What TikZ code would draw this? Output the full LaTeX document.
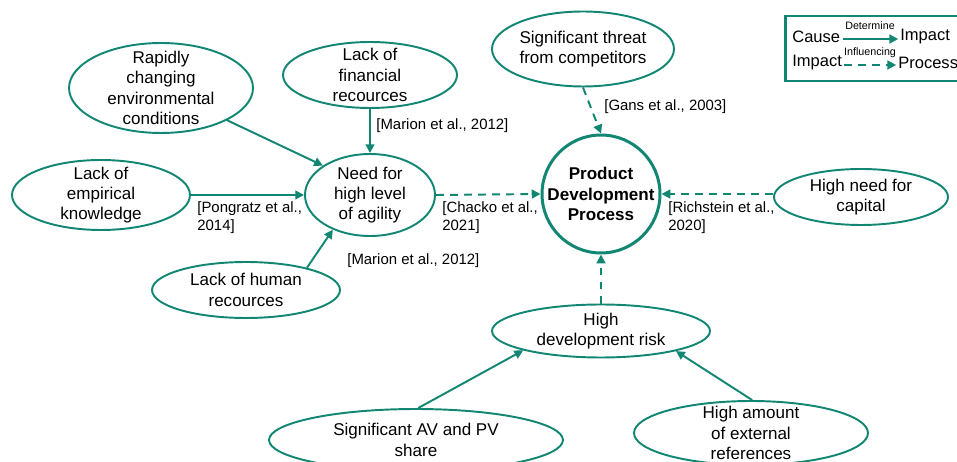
\documentclass[tikz,border=0pt]{standalone}
\usepackage{fontspec}
\setmainfont{Liberation Sans}
\usepackage{tikz}
\usetikzlibrary{positioning}
\usetikzlibrary{shapes.geometric}
\usetikzlibrary{arrows.meta}
\definecolor{teal1}{RGB}{17,135,115}
\tikzset{
  factor/.style={ellipse, draw=teal1, line width=1.1pt, inner sep=0pt},
  txt/.style={label={[align=center, inner sep=0pt]center:#1}},
  cite/.style={anchor=west, align=left, inner sep=0pt, font=\fontsize{8.5}{10.2}\selectfont},
  determ/.style={-{Triangle[length=5pt,width=5pt]}, draw=teal1, line width=1.1pt},
  influ/.style={determ, dash pattern=on 4.5pt off 3.5pt},
}
\begin{document}
\begin{tikzpicture}[x=0.02cm,y=-0.02cm,font=\fontsize{9.7}{11.6}\selectfont]
\clip (0,0) rectangle (957,462);
\fill[white] (0,0) rectangle (957,462);
% causes
\node[factor, minimum width=3.68cm, minimum height=1.8cm, txt={Rapidly\\changing\\environmental\\conditions}] (rapid) at (161,88) {};
\node[factor, minimum width=3.48cm, minimum height=1.32cm, txt={Lack of\\financial\\recources}] (finance) at (370,75) {};
\node[factor, minimum width=3.64cm, minimum height=1.5cm, txt={Significant threat\\from competitors}] (threat) at (583,49) {};
\node[factor, minimum width=3.56cm, minimum height=1.4cm, txt={Lack of\\empirical\\knowledge}] (empiric) at (101,195) {};
\node[factor, minimum width=2.6cm, minimum height=1.64cm, txt={Need for\\high level\\of agility}] (agile) at (370,195) {};
\node[circle, draw=teal1, line width=1.7pt, minimum size=2.36cm, inner sep=0pt, txt={\bfseries Product\\\bfseries Development\\\bfseries Process}] (pdp) at (601,194) {};
\node[factor, minimum width=3.48cm, minimum height=1.12cm, txt={High need for\\capital}] (capital) at (861,197) {};
\node[factor, minimum width=3.76cm, minimum height=1.12cm, txt={Lack of human\\recources}] (human) at (246,290) {};
\node[factor, minimum width=4.36cm, minimum height=1.06cm, txt={High\\development risk}] (risk) at (601,331) {};
\node[factor, minimum width=5.88cm, minimum height=1.24cm, txt={Significant AV and PV\\share}] (share) at (416,440) {};
\node[factor, minimum width=4.68cm, minimum height=1.28cm, txt={High amount\\of external\\references}] (extern) at (751,433) {};
% sources
\node[cite] (cite1) at (376,126) {[Marion et al., 2012]};
\node[cite] (cite2) at (604,107) {[Gans et al., 2003]};
\node[cite] (cite3) at (197,218) {[Pongratz et al.,\\2014]};
\node[cite] (cite4) at (442,218) {[Chacko et al.,\\2021]};
\node[cite] (cite5) at (668,218) {[Richstein et al.,\\2020]};
\node[cite] (cite6) at (347,261) {[Marion et al., 2012]};
% connectors
\draw[determ] (rapid.334) -- (agile.148);
\draw[determ] (finance.270) -- (agile.90);
\draw[determ] (empiric.0) -- (agile.180);
\draw[determ] (human.20) -- (agile.223);
\draw[influ] (agile.0) -- (pdp.180);
\draw[influ] (threat.270) -- (pdp.90);
\draw[influ] (capital.west |- pdp.east) -- (pdp.east);
\draw[influ] (risk.90) -- (pdp.270);
\draw[determ] (share.86) -- (risk.194);
\draw[determ] (extern.88) -- (risk.345);
% legend
\draw[teal1, line width=1.7pt] (785,16) rectangle (980,81);
\node[anchor=west, inner sep=0pt, font=\fontsize{9.4}{11}\selectfont] (lcause) at (792,37) {Cause};
\node[anchor=west, inner sep=0pt, font=\fontsize{9.4}{11}\selectfont] (limpA) at (900,37) {Impact};
\node[anchor=west, inner sep=0pt, font=\fontsize{9.4}{11}\selectfont] (limpB) at (792,63) {Impact};
\node[anchor=west, inner sep=0pt, font=\fontsize{9.4}{11}\selectfont] (lproc) at (898,63) {Process};
\draw[determ] (lcause.east) ++(3,2) coordinate (la) -- ([xshift=-1pt]limpA.west |- la);
\draw[influ] (limpB.east) ++(2,2) coordinate (lb) -- ([xshift=-1pt]lproc.west |- lb);
\node[font=\fontsize{6.1}{7}\selectfont, inner sep=0pt] (ldet) at (870,26) {Determine};
\node[font=\fontsize{6.1}{7}\selectfont, inner sep=0pt] (linf) at (870,53) {Influencing};
\end{tikzpicture}
\end{document}
